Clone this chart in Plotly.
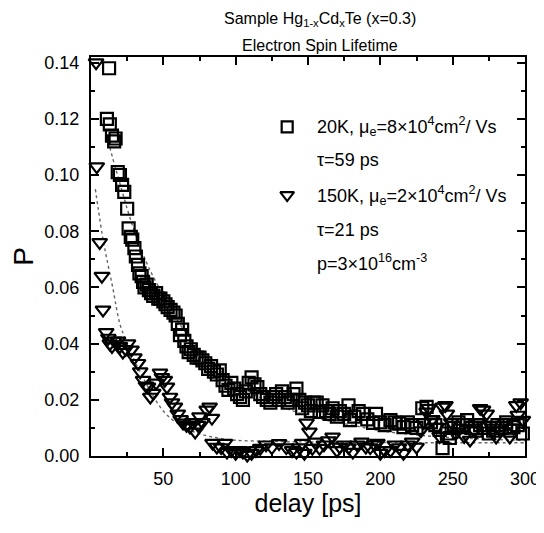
import plotly.graph_objects as go

# 20K data (squares): delay [ps], P
sq_x = [11, 12.5, 13, 14.5, 16, 17, 18.5, 20, 21.5, 23, 25, 26, 27.5, 28.5, 30, 31, 32.5, 33.5,
        35, 36, 37, 38.5, 40, 41.5, 43, 45, 46.5, 48, 50, 51.5, 53, 55, 57, 58.5, 60, 61.5,
        63, 64.5, 66, 67.5, 69, 71, 73, 75, 77, 79, 81, 83, 85, 87, 89, 91, 93, 95, 97, 99,
        101, 103, 105, 107, 109, 111, 113, 115, 117, 119, 121.5, 124, 126, 128, 130, 132,
        134, 136, 138, 140, 142, 144, 146, 148, 150, 152, 154, 156, 158, 160, 162.5, 165,
        167, 170, 172, 175, 178, 179, 182, 185, 188, 191, 195, 197, 200, 203, 207, 210, 213,
        216, 219, 222, 225, 229, 232, 235, 238, 241, 243, 246, 248, 251, 254, 257, 260, 263,
        266, 269, 272, 275, 278, 281, 284, 287, 290, 292, 295, 298.5]
sq_y = [0.120, 0.138, 0.118, 0.114, 0.112, 0.113, 0.101, 0.100, 0.0965, 0.094, 0.088, 0.081,
        0.078, 0.077, 0.074, 0.071, 0.068, 0.065, 0.064, 0.062, 0.060, 0.061, 0.059, 0.058,
        0.057, 0.058, 0.056, 0.056, 0.055, 0.054, 0.053, 0.052, 0.051, 0.050, 0.047, 0.043,
        0.045, 0.041, 0.039, 0.037, 0.038, 0.036, 0.035, 0.035, 0.034, 0.033, 0.031, 0.032,
        0.030, 0.029, 0.0305, 0.027, 0.025, 0.0235, 0.026, 0.024, 0.022, 0.021, 0.020, 0.023,
        0.026, 0.028, 0.0255, 0.0245, 0.022, 0.021, 0.020, 0.019, 0.021, 0.022, 0.020, 0.023,
        0.021, 0.019, 0.020, 0.022, 0.024, 0.020, 0.017, 0.019, 0.018, 0.016, 0.019, 0.019,
        0.0157, 0.018, 0.016, 0.015, 0.017, 0.014, 0.016, 0.015, 0.018, 0.0128, 0.014, 0.016,
        0.015, 0.013, 0.0118, 0.015, 0.012, 0.011, 0.0128, 0.012, 0.0115, 0.0103, 0.012,
        0.011, 0.010, 0.017, 0.0175, 0.012, 0.011, 0.0093, 0.0028, 0.008, 0.0064, 0.010,
        0.012, 0.011, 0.0128, 0.010, 0.009, 0.011, 0.010, 0.008, 0.009, 0.011, 0.010, 0.012,
        0.009, 0.0103, 0.011, 0.008]

# 150K data (triangles)
tr_x = [3.5, 4, 6, 7.5, 8.3, 10.5, 12, 13, 14.5, 16, 18.7, 20, 22, 24, 25.6, 28, 30, 32.5,
        34, 36, 38, 39.4, 41, 43, 45, 47.7, 49, 51, 52.5, 54.6, 56, 58, 60, 62, 63.6, 66,
        68.4, 70, 72, 74, 75, 77, 80, 82, 83.6, 84, 87, 90, 92.6, 94, 97, 100, 103, 105, 108,
        111, 114, 117, 121, 125, 130, 135, 139, 142, 144, 146, 147.5, 149, 151, 153, 155,
        158, 161, 164, 167, 170, 172, 175, 178, 181, 184, 187, 190, 193, 196, 198, 200, 203,
        207, 210, 213, 216, 219, 222, 225, 228, 230, 232, 233.5, 236, 239, 241, 243, 245,
        246, 249, 252, 255, 258, 262, 265, 267, 269, 271, 273.5, 276, 278, 280, 283, 286,
        289.5, 292, 294, 295, 297, 298.5]
tr_y = [0.140, 0.103, 0.076, 0.064, 0.052, 0.044, 0.042, 0.040, 0.039, 0.041, 0.041, 0.039,
        0.037, 0.038, 0.040, 0.0378, 0.035, 0.033, 0.030, 0.027, 0.025, 0.0246, 0.021, 0.0224,
        0.026, 0.0296, 0.028, 0.027, 0.0246, 0.021, 0.019, 0.0175, 0.015, 0.013, 0.0118,
        0.011, 0.0103, 0.012, 0.0086, 0.011, 0.014, 0.012, 0.0164, 0.0175, 0.0135, 0.0046,
        0.0032, 0.003, 0.0046, 0.0014, 0.002, 0.001, 0.002, 0.0014, 0.0004, 0.001, 0.002,
        0.0028, 0.004, 0.003, 0.0045, 0.003, 0.002, 0.0014, 0.003, 0.0046, 0.001, 0.0118,
        0.0086, 0.0028, 0.005, 0.0028, 0.004, 0.0055, 0.0068, 0.002, 0.0032, 0.004, 0.003,
        0.0014, 0.004, 0.005, 0.0032, 0.003, 0.004, 0.0046, 0.001, 0.002, 0.002, 0.004,
        0.003, 0.001, 0.004, 0.005, 0.0032, 0.009, 0.012, 0.0157, 0.017, 0.013, 0.0103,
        0.007, 0.0175, 0.018, 0.015, 0.012, 0.008, 0.010, 0.007, 0.0057, 0.009, 0.012, 0.017,
        0.0164, 0.015, 0.011, 0.009, 0.0068, 0.009, 0.012, 0.0068, 0.010, 0.018, 0.0146,
        0.019, 0.0128]

# fit curves
fit20_x = [10, 15, 20, 25, 30, 35, 40, 50, 60, 70, 80, 90, 100, 120, 140, 160, 180, 200, 225, 250, 275, 300]
fit20_y = [0.116, 0.106, 0.097, 0.088, 0.080, 0.073, 0.067, 0.057, 0.048, 0.041, 0.035, 0.030,
           0.026, 0.020, 0.016, 0.013, 0.011, 0.009, 0.0075, 0.0065, 0.006, 0.0055]
fit150_x = [3, 5, 8, 11, 15, 20, 25, 30, 35, 40, 50, 60, 70, 80, 90, 100, 125, 150, 200, 250, 300]
fit150_y = [0.095, 0.088, 0.078, 0.070, 0.060, 0.047, 0.040, 0.034, 0.029, 0.024, 0.016, 0.0115,
            0.0088, 0.0072, 0.0062, 0.0056, 0.0052, 0.005, 0.0048, 0.0047, 0.0047]

x_ticks = [50, 100, 150, 200, 250, 300]
y_ticks = [0.00, 0.02, 0.04, 0.06, 0.08, 0.10, 0.12, 0.14]

FONT = "Arial, Liberation Sans, sans-serif"

sq_marker = dict(symbol="square-open", size=12, color="black", line=dict(width=2.2, color="black"))
tr_marker = dict(symbol="triangle-down-open", size=13, color="black", line=dict(width=2.2, color="black"))

fig = go.Figure()
fig.add_trace(go.Scatter(x=fit20_x, y=fit20_y, mode="lines", line_shape="spline",
                         line=dict(color="#666", width=1.4, dash="dot")))
fig.add_trace(go.Scatter(x=fit150_x, y=fit150_y, mode="lines", line_shape="spline",
                         line=dict(color="#666", width=1.4, dash="dot")))
fig.add_trace(go.Scatter(x=sq_x, y=sq_y, mode="markers", cliponaxis=False, marker=sq_marker))
fig.add_trace(go.Scatter(x=tr_x, y=tr_y, mode="markers", cliponaxis=False, marker=tr_marker))

# legend glyphs on an overlay axis in plot-area fractions
fig.add_trace(go.Scatter(x=[0.452], y=[0.825], mode="markers", xaxis="x2", yaxis="y2",
                         marker=dict(sq_marker, size=11)))
fig.add_trace(go.Scatter(x=[0.452], y=[0.654], mode="markers", xaxis="x2", yaxis="y2",
                         marker=dict(tr_marker, size=12)))

legend_lines = [
    ("20K, μ<sub>e</sub>=8×10<sup>4</sup>cm<sup>2</sup>/ Vs", 0.825),
    ("τ=59 ps", 0.742),
    ("150K, μ<sub>e</sub>=2×10<sup>4</sup>cm<sup>2</sup>/ Vs", 0.654),
    ("τ=21 ps", 0.566),
    ("p=3×10<sup>16</sup>cm<sup>-3</sup>", 0.484),
]
for txt, yy in legend_lines:
    fig.add_annotation(text=txt, x=0.516, y=yy, xref="paper", yref="paper",
                       xanchor="left", yanchor="middle", showarrow=False,
                       font=dict(size=18, color="black", family=FONT))

# two title lines (page pixel spots converted to plot-area fractions)
fig.add_annotation(text="Sample Hg<sub>1-x</sub>Cd<sub>x</sub>Te (x=0.3)",
                   x=(320 - 91) / 434, y=(456 - 8) / 399, xref="paper", yref="paper",
                   xanchor="center", yanchor="top", showarrow=False,
                   font=dict(size=16, color="black", family=FONT))
fig.add_annotation(text="Electron Spin Lifetime",
                   x=(320 - 91) / 434, y=(456 - 45) / 399, xref="paper", yref="paper",
                   xanchor="center", yanchor="middle", showarrow=False,
                   font=dict(size=16, color="black", family=FONT))

axis_common = dict(showline=True, linecolor="black", linewidth=2, mirror="allticks",
                   ticks="inside", ticklen=8, tickwidth=2, tickcolor="black",
                   showgrid=False, zeroline=False, automargin=False,
                   ticklabeloverflow="allow",
                   tickfont=dict(size=18, color="black", family=FONT))

# the page body keeps an 8px margin, so the figure is sized to fit inside it
fig.update_layout(
    width=536, height=517,
    margin=dict(l=83, r=19, t=49, b=69),
    paper_bgcolor="white", plot_bgcolor="white",
    showlegend=False,
    font=dict(family=FONT, color="black"),
    xaxis=dict(range=[0, 300], tickvals=x_ticks, ticklabelstandoff=5,
               title=dict(text="delay [ps]", standoff=6, font=dict(size=25, family=FONT)),
               minor=dict(dtick=25, tick0=0, ticks="inside", ticklen=4, tickwidth=1.5,
                          tickcolor="black"),
               **axis_common),
    yaxis=dict(range=[0, 0.142], tickvals=y_ticks, tickformat=".2f", ticklabelstandoff=6,
               title=dict(text="P", standoff=8, font=dict(size=28, family=FONT)),
               minor=dict(dtick=0.01, tick0=0, ticks="inside", ticklen=4, tickwidth=1.5,
                          tickcolor="black"),
               **axis_common),
    xaxis2=dict(range=[0, 1], overlaying="x", visible=False),
    yaxis2=dict(range=[0, 1], overlaying="y", visible=False),
)

fig.write_html("out.html")
